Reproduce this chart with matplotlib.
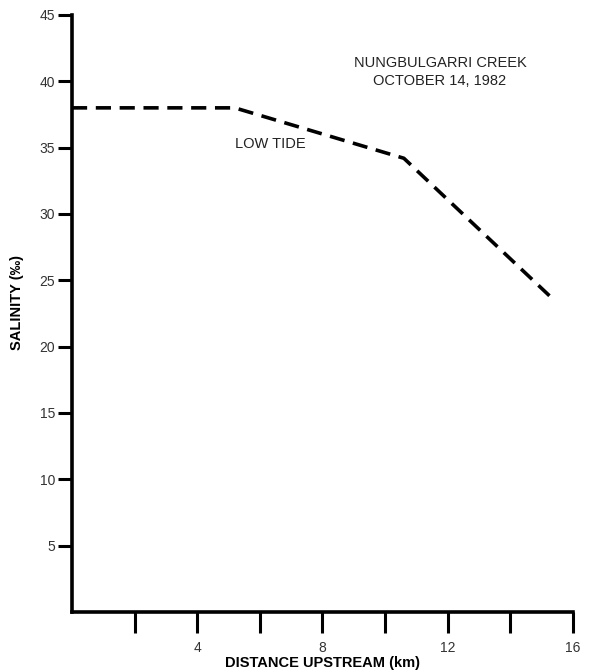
import matplotlib
matplotlib.use("Agg")
import matplotlib.pyplot as plt

# Salinity profile along Nungbulgarri Creek at low tide
distance_km = [0.0, 5.2, 10.6, 15.4]
salinity = [38.0, 38.0, 34.2, 23.5]

x_ticks = [2, 4, 6, 8, 10, 12, 14, 16]
x_tick_labels = ["", "4", "", "8", "", "12", "", "16"]
y_ticks = [5, 10, 15, 20, 25, 30, 35, 40, 45]
y_tick_labels = ["5", "10", "15", "20", "25", "30", "35", "40", "45"]

plt.rcParams["font.family"] = ["Liberation Sans", "DejaVu Sans"]

fig = plt.figure(figsize=(6.12, 6.72), dpi=100)
ax = fig.add_axes([0.1176, 0.0893, 0.8186, 0.8884])

ax.plot(distance_km, salinity, color="black", lw=2.6,
        linestyle=(0, (4.2, 2.4)), solid_capstyle="butt",
        dash_capstyle="butt", clip_on=False)

ax.set_xlim(0, 16)
ax.set_ylim(0, 45)

for side in ("top", "right"):
    ax.spines[side].set_visible(False)
for side in ("left", "bottom"):
    ax.spines[side].set_linewidth(2.6)
    ax.spines[side].set_color("black")

ax.set_xticks(x_ticks)
ax.set_xticklabels(x_tick_labels)
ax.set_yticks(y_ticks)
ax.set_yticklabels(y_tick_labels)
ax.tick_params(axis="x", direction="out", length=15, width=2.2, pad=6,
               labelsize=10, labelcolor="#333333")
ax.tick_params(axis="y", direction="out", length=10, width=2.2, pad=2,
               labelsize=10, labelcolor="#333333")

ax.set_xlabel("DISTANCE UPSTREAM (km)", fontsize=10.5, fontweight="bold")
ax.xaxis.set_label_coords(0.5, -0.073)
ax.set_ylabel("SALINITY (‰)", fontsize=10.5, fontweight="bold")
ax.yaxis.set_label_coords(-0.095, 0.518)

ax.text(11.75, 40.7, "NUNGBULGARRI CREEK\nOCTOBER 14, 1982", ha="center",
        va="center", fontsize=10.5, color="#222222", linespacing=1.3)
ax.text(6.35, 35.3, "LOW TIDE", ha="center", va="center", fontsize=10.5,
        color="#222222")

fig.savefig("out.png", dpi=100)
